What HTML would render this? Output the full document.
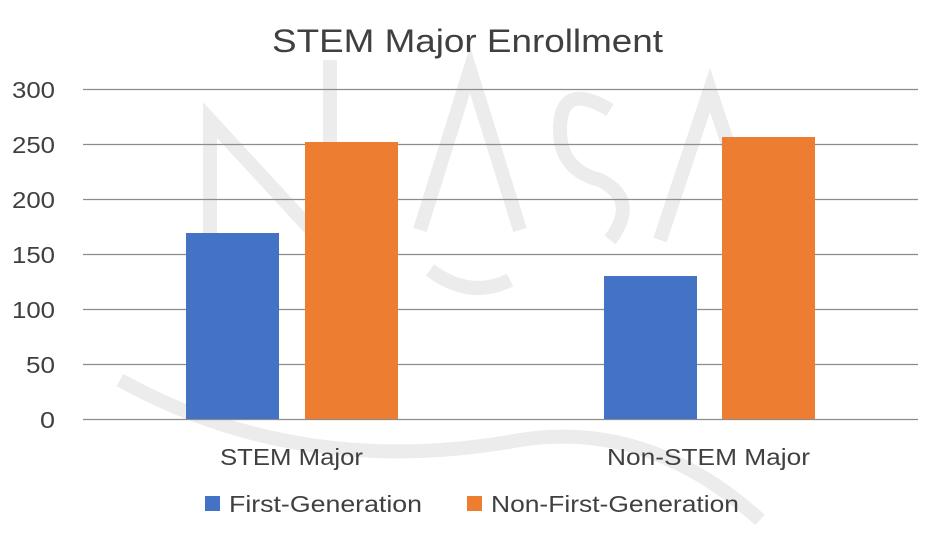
<!DOCTYPE html>
<html><head><style>
body{margin:0;background:#fff;}
svg{display:block;font-family:"Liberation Sans",sans-serif;}
</style></head><body>
<svg width="935" height="540" viewBox="0 0 935 540">
<g fill="none" stroke="#ececec" stroke-width="14">
<path d="M210 250 L210 120 L330 250 L330 60"/>
<path d="M420 230 L470 70 L520 230"/>
<path d="M610 110 Q560 80 560 130 Q560 170 600 180 Q640 200 610 240"/>
<path d="M660 240 L710 90 L760 240"/>
<path d="M120 380 Q300 480 520 440 Q650 420 760 520"/>
<path d="M430 270 Q470 300 510 280"/>
</g>
<text x="272" y="52" font-size="32" fill="#404040" textLength="391" lengthAdjust="spacingAndGlyphs">STEM Major Enrollment</text>
<g stroke="#8c8c8c" stroke-width="1.3">
<line x1="83" x2="918" y1="89.5" y2="89.5"/>
<line x1="83" x2="918" y1="144.5" y2="144.5"/>
<line x1="83" x2="918" y1="199.5" y2="199.5"/>
<line x1="83" x2="918" y1="254.5" y2="254.5"/>
<line x1="83" x2="918" y1="309.5" y2="309.5"/>
<line x1="83" x2="918" y1="364.5" y2="364.5"/>
<line x1="83" x2="918" y1="419.5" y2="419.5"/>
</g>
<g font-size="23" fill="#404040">
<text x="12" y="98" textLength="43" lengthAdjust="spacingAndGlyphs">300</text>
<text x="12" y="153" textLength="43" lengthAdjust="spacingAndGlyphs">250</text>
<text x="12" y="208" textLength="43" lengthAdjust="spacingAndGlyphs">200</text>
<text x="12" y="263" textLength="43" lengthAdjust="spacingAndGlyphs">150</text>
<text x="12" y="318" textLength="43" lengthAdjust="spacingAndGlyphs">100</text>
<text x="26" y="373" textLength="29" lengthAdjust="spacingAndGlyphs">50</text>
<text x="40" y="428" textLength="15" lengthAdjust="spacingAndGlyphs">0</text>
</g>
<rect x="186" y="233" width="93" height="186" fill="#4472c4"/>
<rect x="305" y="142" width="93" height="277" fill="#ed7d31"/>
<rect x="604" y="276" width="93" height="143" fill="#4472c4"/>
<rect x="722" y="137" width="93" height="282" fill="#ed7d31"/>
<g font-size="23" fill="#404040">
<text x="220" y="465" textLength="143" lengthAdjust="spacingAndGlyphs">STEM Major</text>
<text x="607" y="465" textLength="203" lengthAdjust="spacingAndGlyphs">Non-STEM Major</text>
</g>
<rect x="205" y="496" width="15" height="15" fill="#4472c4"/>
<text x="229" y="512" font-size="23" fill="#404040" textLength="193" lengthAdjust="spacingAndGlyphs">First-Generation</text>
<rect x="467" y="496" width="15" height="15" fill="#ed7d31"/>
<text x="491" y="512" font-size="23" fill="#404040" textLength="248" lengthAdjust="spacingAndGlyphs">Non-First-Generation</text>
</svg>
</body></html>
